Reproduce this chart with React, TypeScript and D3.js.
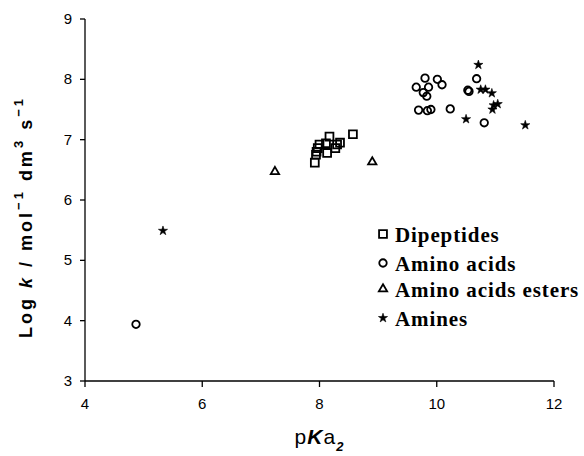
import React from 'react'
import * as d3 from 'd3'

// pKa2 / log k pairs
const dipeptides: [number, number][] = [
  [7.92, 6.62], [7.94, 6.75], [7.95, 6.8], [7.97, 6.86], [8.0, 6.92],
  [8.11, 6.94], [8.17, 7.05], [8.13, 6.78], [8.27, 6.86], [8.3, 6.92],
  [8.35, 6.95], [8.57, 7.09]
]
const aminoAcids: [number, number][] = [
  [9.8, 8.02], [9.65, 7.87], [9.86, 7.87], [9.77, 7.78], [9.83, 7.72],
  [10.01, 8.0], [10.09, 7.91], [9.69, 7.49], [9.84, 7.48], [9.9, 7.5],
  [10.23, 7.51], [10.53, 7.82], [10.55, 7.8], [10.68, 8.01], [10.81, 7.28],
  [4.87, 3.94]
]
const esters: [number, number][] = [[7.24, 6.47], [8.9, 6.63]]
const amines: [number, number][] = [
  [10.71, 8.24], [10.75, 7.83], [10.83, 7.83], [10.94, 7.77], [10.97, 7.57],
  [11.04, 7.59], [10.95, 7.5], [10.5, 7.34], [11.51, 7.24], [5.33, 5.49]
]
const xTicks = [4, 6, 8, 10, 12]
const yTicks = [3, 4, 5, 6, 7, 8, 9]
const legendLabels = ['Dipeptides', 'Amino acids', 'Amino acids esters', 'Amines']

const W = 584
const H = 456
const sans = 'Liberation Sans, Arial, sans-serif'
const serif = 'Liberation Serif, Times New Roman, serif'

const x = d3.scaleLinear().domain([4, 12]).range([85, 554])
const y = d3.scaleLinear().domain([3, 9]).range([381, 19])

const sym = {
  square: d3.symbol().type(d3.symbolSquare).size(62)(),
  circle: d3.symbol().type(d3.symbolCircle).size(44)(),
  triangle: d3.symbol().type(d3.symbolTriangle).size(30)(),
  star: d3.symbol().type(d3.symbolStar).size(26)()
}

function Marker({ kind, tx, ty }: { kind: string; tx: number; ty: number }) {
  const filled = kind === 'star'
  return (
    <path
      d={(sym as any)[kind]}
      transform={`translate(${tx},${ty})`}
      fill={filled ? '#000' : 'none'}
      stroke="#000"
      strokeWidth={filled ? 0.6 : 1.8}
    />
  )
}

export default function App() {
  const series = [
    { kind: 'square', data: dipeptides },
    { kind: 'circle', data: aminoAcids },
    { kind: 'triangle', data: esters },
    { kind: 'star', data: amines }
  ]
  const legendY = [235, 264, 290, 319]

  return (
    <svg width={W} height={H} style={{ position: 'absolute', left: 0, top: 0, background: '#fff' }}>
      {/* axes */}
      <line x1={x(4)} x2={x(12)} y1={y(3)} y2={y(3)} stroke="#000" strokeWidth={1.3} />
      <line x1={x(4)} x2={x(4)} y1={y(3)} y2={y(9)} stroke="#000" strokeWidth={1.3} />
      {xTicks.map(t => (
        <g key={'x' + t}>
          <line x1={x(t)} x2={x(t)} y1={y(3)} y2={y(3) + 6} stroke="#000" strokeWidth={1.3} />
          <text x={x(t)} y={y(3) + 28} textAnchor="middle" fontFamily={sans} fontSize={15}>{t}</text>
        </g>
      ))}
      {yTicks.map(t => (
        <g key={'y' + t}>
          <line x1={x(4) - 5} x2={x(4)} y1={y(t)} y2={y(t)} stroke="#000" strokeWidth={1.3} />
          <text x={x(4) - 13} y={y(t) + 5} textAnchor="end" fontFamily={sans} fontSize={15}>{t}</text>
        </g>
      ))}

      {/* axis titles */}
      <text x={(x(4) + x(12)) / 2} y={444} textAnchor="middle" fontFamily={sans} fontSize={21} letterSpacing={1}>
        p<tspan fontStyle="italic" fontWeight="bold">K</tspan>a
        <tspan dy={7} fontSize={13} fontWeight="bold" fontStyle="italic">2</tspan>
      </text>
      <text
        transform={`translate(32,${(y(3) + y(9)) / 2 + 17}) rotate(-90)`}
        textAnchor="middle"
        fontFamily={sans}
        fontWeight="bold"
        fontSize={18}
        letterSpacing={3}
      >
        Log <tspan fontStyle="italic">k</tspan> / mol<tspan dy={-9} fontSize={13}>−1</tspan>
        <tspan dy={9}> dm</tspan><tspan dy={-9} fontSize={13}>3</tspan>
        <tspan dy={9}> s</tspan><tspan dy={-9} fontSize={13}>−1</tspan>
      </text>

      {/* points */}
      {series.map(s =>
        s.data.map((d, i) => <Marker key={s.kind + i} kind={s.kind} tx={x(d[0])} ty={y(d[1])} />)
      )}

      {/* legend */}
      {legendLabels.map((l, i) => (
        <g key={l}>
          <Marker kind={series[i].kind} tx={383} ty={legendY[i] - 1} />
          <text x={395} y={legendY[i] + 7} fontFamily={serif} fontWeight="bold" fontSize={21} letterSpacing={0.9}>{l}</text>
        </g>
      ))}
    </svg>
  )
}
